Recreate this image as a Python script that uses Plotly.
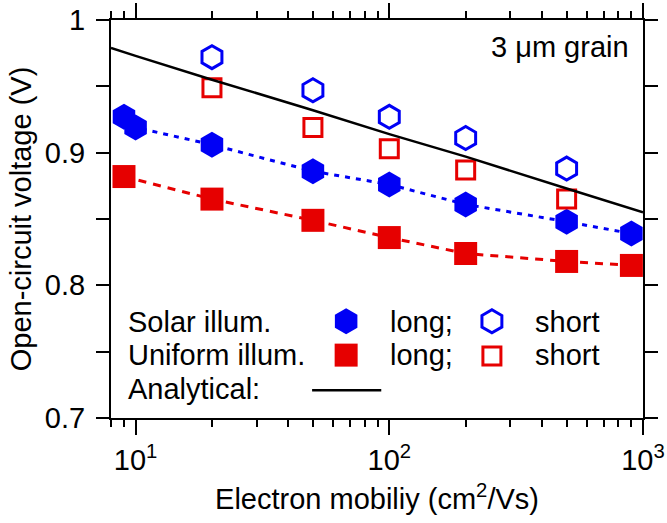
import plotly.graph_objects as go

# ---- data ----
solar_long_x = [9, 10, 20, 50, 100, 200, 500, 900]
solar_long_y = [0.927, 0.919, 0.906, 0.886, 0.876, 0.861, 0.848, 0.839]
solar_short_x = [20, 50, 100, 200, 500]
solar_short_y = [0.972, 0.947, 0.927, 0.911, 0.888]
uniform_long_x = [9, 20, 50, 100, 200, 500, 900]
uniform_long_y = [0.882, 0.865, 0.849, 0.836, 0.824, 0.818, 0.815]
uniform_short_x = [20, 50, 100, 200, 500]
uniform_short_y = [0.949, 0.919, 0.903, 0.887, 0.865]
analytical_x = [8, 10, 20, 50, 100, 200, 500, 1000]
analytical_y = [0.979, 0.973, 0.955, 0.932, 0.914, 0.897, 0.873, 0.855]

x_tickvals = [10, 100, 1000]
x_ticktext = ["10<sup>1</sup>", "10<sup>2</sup>", "10<sup>3</sup>"]
x_minor = [8, 9, 20, 30, 40, 50, 60, 70, 80, 90, 200, 300, 400, 500, 600, 700, 800, 900]
y_tickvals = [0.7, 0.8, 0.9, 1.0]
y_ticktext = ["0.7", "0.8", "0.9", "1"]
y_minor = [0.75, 0.85, 0.95]

BLUE = "#0000F5"
RED = "#E60000"
FONT = "Liberation Sans, Arial, sans-serif"
FS = 29

fig = go.Figure()

fig.add_trace(go.Scatter(x=solar_long_x, y=solar_long_y, mode="lines+markers",
                         line=dict(color=BLUE, width=3, dash="5px,6px"),
                         marker=dict(symbol="hexagon", size=26, color=BLUE, line=dict(width=0)),
                         showlegend=False))
fig.add_trace(go.Scatter(x=uniform_long_x, y=uniform_long_y, mode="lines+markers",
                         line=dict(color=RED, width=3, dash="8px,7px"),
                         marker=dict(symbol="square", size=23, color=RED, line=dict(width=0)),
                         showlegend=False))
fig.add_trace(go.Scatter(x=solar_short_x, y=solar_short_y, mode="markers",
                         marker=dict(symbol="hexagon-open", size=23, color=BLUE, line=dict(width=3, color=BLUE)),
                         showlegend=False))
fig.add_trace(go.Scatter(x=uniform_short_x, y=uniform_short_y, mode="markers",
                         marker=dict(symbol="square-open", size=18, color=RED, line=dict(width=3, color=RED)),
                         showlegend=False))
fig.add_trace(go.Scatter(x=analytical_x, y=analytical_y, mode="lines",
                         line=dict(color="black", width=2.5), showlegend=False))

# ---- in-plot key (overlay axes in 0..1 units) ----
fig.add_trace(go.Scatter(x=[0.442], y=[0.243], xaxis="x2", yaxis="y2", mode="markers",
                         marker=dict(symbol="hexagon", size=26, color=BLUE, line=dict(width=0)), showlegend=False))
fig.add_trace(go.Scatter(x=[0.716], y=[0.243], xaxis="x2", yaxis="y2", mode="markers",
                         marker=dict(symbol="hexagon-open", size=23, color=BLUE, line=dict(width=3, color=BLUE)), showlegend=False))
fig.add_trace(go.Scatter(x=[0.442], y=[0.158], xaxis="x2", yaxis="y2", mode="markers",
                         marker=dict(symbol="square", size=23, color=RED, line=dict(width=0)), showlegend=False))
fig.add_trace(go.Scatter(x=[0.716], y=[0.156], xaxis="x2", yaxis="y2", mode="markers",
                         marker=dict(symbol="square-open", size=18, color=RED, line=dict(width=3, color=RED)), showlegend=False))
fig.add_trace(go.Scatter(x=[0.378, 0.508], y=[0.070, 0.070], xaxis="x2", yaxis="y2", mode="lines",
                         line=dict(color="black", width=2.5), showlegend=False))

ann_font = dict(family=FONT, size=FS, color="black")
anns = []
for txt, x, y in [("Solar illum.", 0.028, 0.241), ("Uniform illum.", 0.028, 0.158), ("Analytical:", 0.028, 0.072),
                  ("long;", 0.521, 0.241), ("short", 0.793, 0.241),
                  ("long;", 0.521, 0.158), ("short", 0.793, 0.158)]:
    anns.append(dict(text=txt, x=x, y=y, xref="paper", yref="paper", xanchor="left", yanchor="middle",
                     showarrow=False, font=ann_font))
anns.append(dict(text="3 μm grain", x=0.977, y=0.932, xref="paper", yref="paper", xanchor="right",
                 yanchor="middle", showarrow=False, font=ann_font))

axis_common = dict(showline=True, linewidth=2, linecolor="black", mirror="ticks", ticks="outside",
                   tickwidth=2, tickcolor="black", showgrid=False, zeroline=False, automargin=False,
                   ticklabeloverflow="allow",
                   tickfont=dict(family=FONT, size=FS, color="black"))

fig.update_layout(
    width=667, height=523,
    margin=dict(l=111, r=24, t=20, b=105),
    paper_bgcolor="white", plot_bgcolor="white",
    font=dict(family=FONT, size=FS, color="black"),
    xaxis=dict(type="log", range=[0.90309, 3], tickmode="array", tickvals=x_tickvals, ticktext=x_ticktext,
               ticklen=15,
               minor=dict(tickmode="array", tickvals=x_minor, ticks="outside", ticklen=7, tickwidth=2,
                          tickcolor="black", showgrid=False),
               title=dict(text="Electron mobiliy (cm<sup>2</sup>/Vs)", font=dict(family=FONT, size=FS), standoff=14),
               **axis_common),
    yaxis=dict(range=[0.7, 1.0], tickmode="array", tickvals=y_tickvals, ticktext=y_ticktext,
               ticklen=13, ticklabelstandoff=5,
               minor=dict(tickmode="array", tickvals=y_minor, ticks="outside", ticklen=13, tickwidth=2,
                          tickcolor="black", showgrid=False),
               title=dict(text="Open-circuit voltage (V)", font=dict(family=FONT, size=FS), standoff=5),
               **axis_common),
    xaxis2=dict(overlaying="x", range=[0, 1], visible=False, automargin=False),
    yaxis2=dict(overlaying="y", range=[0, 1], visible=False, automargin=False),
    annotations=anns,
)

# remove the default 8px page margin so the figure sits at the window's top-left corner
fig.write_html("out.html", config={"displayModeBar": False},
               post_script="document.body.style.margin='0px';")
